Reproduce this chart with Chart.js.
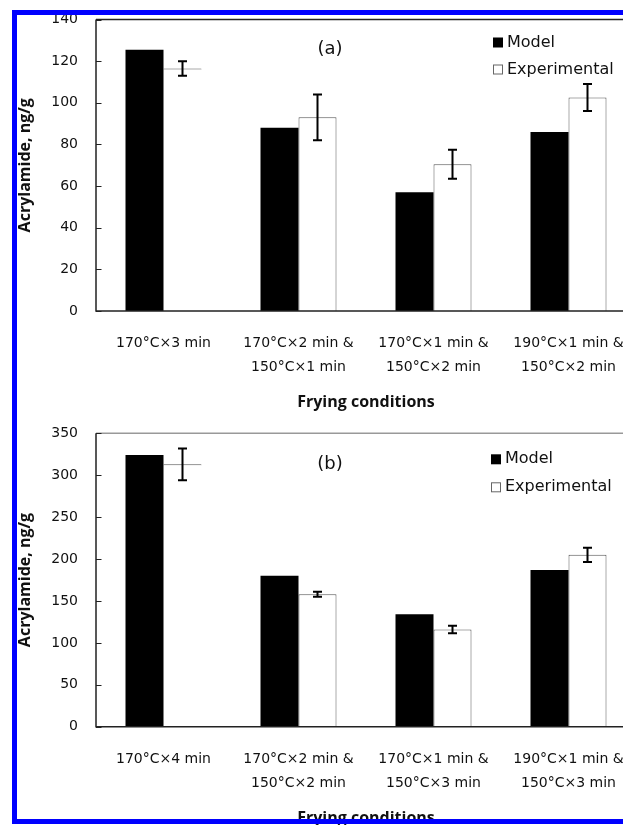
<!DOCTYPE html>
<html>
<head>
<meta charset="utf-8">
<script src="https://cdn.jsdelivr.net/npm/chart.js@4.4.0/dist/chart.umd.min.js"></script>
<style>
  html, body { margin: 0; padding: 0; background: #fff; }
  #wrap { position: relative; width: 623px; height: 825px; overflow: hidden; }
  canvas { position: absolute; left: 0; }
  .blue { position: absolute; background: #0000ff; pointer-events: none; }
</style>
</head>
<body>
<div id="wrap">
  <canvas id="chartA" width="660" height="412" style="top:0"></canvas>
  <canvas id="chartB" width="660" height="416" style="top:412px"></canvas>
  <div class="blue" style="left:12px; top:10px; width:5px; height:814px"></div>
  <div class="blue" style="left:12px; top:10px; width:611px; height:5px"></div>
  <div class="blue" style="left:12px; top:819px; width:611px; height:5px"></div>
</div>
<script>
// panel (a)
var categoriesA = [
  ['170\u00B0C\u00D73 min'],
  ['170\u00B0C\u00D72 min &', '150\u00B0C\u00D71 min'],
  ['170\u00B0C\u00D71 min &', '150\u00B0C\u00D72 min'],
  ['190\u00B0C\u00D71 min &', '150\u00B0C\u00D72 min']
];
var modelA = [125.5, 88, 57, 86];
var experimentalA = [116.5, 93, 70.5, 102.5];
var errorA = [3.5, 11, 7, 6.5];
var yTicksA = [0, 20, 40, 60, 80, 100, 120, 140];

// panel (b)
var categoriesB = [
  ['170\u00B0C\u00D74 min'],
  ['170\u00B0C\u00D72 min &', '150\u00B0C\u00D72 min'],
  ['170\u00B0C\u00D71 min &', '150\u00B0C\u00D73 min'],
  ['190\u00B0C\u00D71 min &', '150\u00B0C\u00D73 min']
];
var modelB = [324, 180, 134, 187];
var experimentalB = [313, 158, 116, 205];
var errorB = [19, 3, 4.5, 8.5];
var yTicksB = [0, 50, 100, 150, 200, 250, 300, 350];

var seriesNames = ['Model', 'Experimental'];

// frame, inner ticks, error bars, legend and panel letter
var framePlugin = {
  id: 'frame',
  afterDatasetsDraw: function(chart) {
    var ctx = chart.ctx;
    var a = chart.chartArea;
    var o = chart.options.plugins.frame;
    var ys = chart.scales.y;
    ctx.save();

    // error bars on experimental bars
    var meta = chart.getDatasetMeta(1);
    var vals = chart.data.datasets[1].data;
    ctx.strokeStyle = '#000';
    ctx.lineWidth = 2;
    meta.data.forEach(function(bar, i) {
      var yTop = ys.getPixelForValue(vals[i] + o.err[i]);
      var yBot = ys.getPixelForValue(vals[i] - o.err[i]);
      ctx.beginPath();
      ctx.moveTo(bar.x, yTop); ctx.lineTo(bar.x, yBot);
      ctx.moveTo(bar.x - 4.5, yTop); ctx.lineTo(bar.x + 4.5, yTop);
      ctx.moveTo(bar.x - 4.5, yBot); ctx.lineTo(bar.x + 4.5, yBot);
      ctx.stroke();
    });

    // plot frame
    ctx.lineWidth = 1.5;
    ctx.strokeStyle = o.topColor;
    ctx.beginPath();
    ctx.moveTo(a.left, a.top); ctx.lineTo(chart.width, a.top);
    ctx.stroke();
    ctx.strokeStyle = '#222';
    ctx.beginPath();
    ctx.moveTo(a.left, a.top); ctx.lineTo(a.left, a.bottom); ctx.lineTo(chart.width, a.bottom);
    ctx.stroke();
    ctx.lineWidth = 1;
    ys.ticks.forEach(function(t) {
      var y = Math.round(ys.getPixelForValue(t.value)) + 0.5;
      ctx.beginPath(); ctx.moveTo(a.left, y); ctx.lineTo(a.left + 5.5, y); ctx.stroke();
    });

    // panel letter
    ctx.fillStyle = '#111';
    ctx.font = '18px "DejaVu Sans"';
    ctx.textAlign = 'center';
    ctx.textBaseline = 'middle';
    ctx.fillText(o.panel, 330, a.top + o.panelDy);

    // legend
    ctx.textAlign = 'left';
    ctx.font = '16px "DejaVu Sans"';
    chart.data.datasets.forEach(function(ds, i) {
      var cy = a.top + o.legendDy[i];
      if (i === 0) {
        ctx.fillStyle = '#000';
        ctx.fillRect(o.legendX, cy - 5, 10, 10);
      } else {
        ctx.fillStyle = '#fff';
        ctx.fillRect(o.legendX, cy - 5, 10, 10);
        ctx.strokeStyle = '#666';
        ctx.strokeRect(o.legendX + 0.5, cy - 4.5, 9, 9);
      }
      ctx.fillStyle = '#111';
      ctx.fillText(ds.label, o.legendX + 14, cy);
    });
    ctx.restore();
  }
};

function buildChart(id, categories, model, experimental, errors, yTicks, panel, lay) {
  var opts = {
    responsive: false,
    animation: false,
    layout: { padding: { left: 0, right: 24, top: lay.areaTop, bottom: 0 } },
    plugins: {
      legend: { display: false },
      tooltip: { enabled: false },
      frame: { err: errors, panel: panel, panelDy: lay.panelDy, legendX: lay.legendX,
               legendDy: lay.legendDy, topColor: lay.topColor }
    },
    scales: {
      x: {
        grid: { display: false, drawTicks: false },
        border: { display: false },
        ticks: { color: '#111', padding: 20, maxRotation: 0, autoSkip: false,
                 font: { family: 'DejaVu Sans', size: 14, lineHeight: 1.75 } },
        title: { display: true, text: 'Frying conditions', color: '#111', padding: { top: 0, bottom: 0 },
                 font: { family: 'Open Sans', size: 16, weight: 'bold' } },
        afterFit: function(s) { s.height = lay.xHeight; }
      },
      y: {
        min: yTicks[0],
        max: yTicks[yTicks.length - 1],
        // label gap comes from an invisible tick length, so the top padding stays small
        grid: { display: false, drawTicks: true, tickLength: 16 },
        border: { display: false },
        ticks: { stepSize: yTicks[1] - yTicks[0], padding: 2, color: '#111',
                 font: { family: 'DejaVu Sans', size: 14 } },
        title: { display: true, text: 'Acrylamide, ng/g', color: '#111', padding: { top: 16, bottom: 0 },
                 font: { family: 'Open Sans', size: 16, weight: 'bold' } },
        afterFit: function(s) { s.width = 96; }
      }
    }
  };
  var config = {
    type: 'bar',
    data: {
      labels: categories,
      datasets: [
        { label: seriesNames[0], data: model, backgroundColor: '#000', borderWidth: 0,
          categoryPercentage: 0.563, barPercentage: 1 },
        { label: seriesNames[1], data: experimental, backgroundColor: '#fff', borderColor: '#555',
          borderWidth: function(c) { return c.dataIndex === 0 ? { top: 1, left: 0, right: 0, bottom: 0 } : 1; },
          borderSkipped: 'start', categoryPercentage: 0.563, barPercentage: 1 }
      ]
    },
    options: opts,
    plugins: [framePlugin]
  };
  return new Chart(document.getElementById(id), config);
}

buildChart('chartA', categoriesA, modelA, experimentalA, errorA, yTicksA, '(a)',
  { areaTop: 19.5, xHeight: 101, panelDy: 30, legendX: 493, legendDy: [23, 50], topColor: '#222' });
buildChart('chartB', categoriesB, modelB, experimentalB, errorB, yTicksB, '(b)',
  { areaTop: 21.3, xHeight: 101.3, panelDy: 31, legendX: 491, legendDy: [26, 54], topColor: '#999' });
</script>
</body>
</html>
